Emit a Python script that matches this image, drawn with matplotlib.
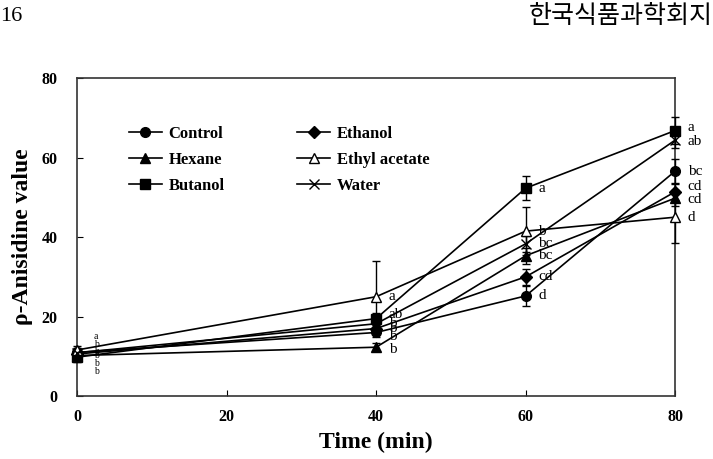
import matplotlib.pyplot as plt

plt.rcParams['font.family'] = ['Liberation Serif', 'DejaVu Serif']

time = [0, 40, 60, 80]

control = [11.0, 16.0, 25.2, 56.6]
ethanol = [10.6, 17.0, 30.0, 51.4]
hexane = [10.2, 12.3, 35.3, 49.8]
ethyl_acetate = [11.6, 25.0, 41.5, 45.0]
butanol = [9.8, 19.5, 52.3, 66.8]
water = [10.9, 18.2, 38.3, 64.4]

control_err = [1.0, 1.2, 2.5, 3.0]
ethanol_err = [0.8, 1.0, 2.0, 2.0]
hexane_err = [0.8, 1.0, 2.0, 2.0]
ethyl_acetate_err = [1.0, 9.0, 6.0, 6.5]
butanol_err = [1.2, 1.5, 3.0, 3.5]
water_err = [0.8, 1.2, 2.0, 2.0]

control_sig = ['b', 'b', 'd', 'bc']
ethanol_sig = ['b', 'b', 'cd', 'cd']
hexane_sig = ['b', 'b', 'bc', 'cd']
ethyl_acetate_sig = ['a', 'a', 'b', 'd']
butanol_sig = ['b', 'ab', 'a', 'a']
water_sig = ['b', 'b', 'bc', 'ab']

series = [
    ('Control', control, control_err, control_sig, 'o', 'k'),
    ('Hexane', hexane, hexane_err, hexane_sig, '^', 'k'),
    ('Butanol', butanol, butanol_err, butanol_sig, 's', 'k'),
    ('Ethanol', ethanol, ethanol_err, ethanol_sig, 'D', 'k'),
    ('Ethyl acetate', ethyl_acetate, ethyl_acetate_err, ethyl_acetate_sig, '^', 'white'),
    ('Water', water, water_err, water_sig, 'x', 'k'),
]

# vertical nudges (points) for the letters so they don't pile up
nudge = {
    'Control': [-2, -3, 0, 0],
    'Hexane': [-6, -2, 0, -1],
    'Butanol': [-10, 3, 0, 2],
    'Ethanol': [2, 0, 0, 4],
    'Ethyl acetate': [10, 0, 0, 0],
    'Water': [6, 0, 0, -1],
}

fig = plt.figure(figsize=[7.13, 4.59], dpi=100)
ax = fig.add_axes([0.108, 0.137, 0.839, 0.693])

handles = []
for name, vals, err, sig, mk, fc in series:
    ms = 6 if mk == 'D' else 7
    cont = ax.errorbar(time, vals, yerr=err, color='k', marker=mk, markersize=ms,
                       markerfacecolor=fc, markeredgecolor='k', linewidth=1.2,
                       elinewidth=1.0, capsize=3, clip_on=False, zorder=3)
    cont[0].set_label(name)
    handles.append(cont[0])
    for i, (t, v, s) in enumerate(zip(time, vals, sig)):
        fs = 7 if t == 0 else 11
        dx = 12 if t == 0 else 9
        ax.annotate(s, (t, v), xytext=(dx, nudge[name][i]), textcoords='offset points',
                    fontsize=fs, va='center', ha='left', annotation_clip=False)

ax.set_xlim(0, 80)
ax.set_ylim(0, 80)
ax.set_xticks([0, 20, 40, 60, 80])
ax.set_yticks([0, 20, 40, 60, 80])
ax.tick_params(direction='in', length=4, labelsize=11.5)
ax.tick_params(axis='x', pad=9)
ax.tick_params(axis='y', pad=14)
for lab in ax.get_xticklabels() + ax.get_yticklabels():
    lab.set_fontweight('bold')
for sp in ax.spines.values():
    sp.set_linewidth(1.2)
    sp.set_color('#333333')

ax.set_xlabel('Time (min)', fontsize=17, fontweight='bold', labelpad=5)
ax.set_ylabel('ρ-Anisidine value', fontsize=17, fontweight='bold', labelpad=6)

ax.legend(handles=handles, ncol=2, loc='upper left', bbox_to_anchor=(0.075, 0.87),
          frameon=False, prop={'weight': 'bold', 'size': 12}, handlelength=2.0,
          handletextpad=0.4, columnspacing=4.35, labelspacing=0.6, borderaxespad=0)

fig.text(0.0, 0.965, '16', fontsize=16, ha='left', va='center')
fig.text(0.999, 0.965, '한국식품과학회지', fontsize=18, ha='right', va='center',
         family=['Noto Sans CJK KR', 'DejaVu Sans'])

plt.savefig('out.png', dpi=100)
